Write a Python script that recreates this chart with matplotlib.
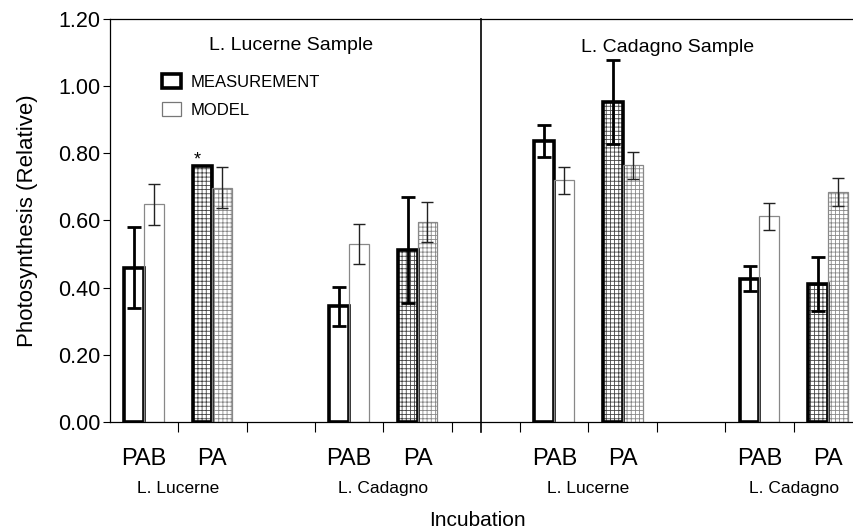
import matplotlib
matplotlib.use("Agg")
import matplotlib.pyplot as plt
from matplotlib.patches import Patch
import numpy as np

plt.rcParams["font.family"] = ["Liberation Sans", "DejaVu Sans"]
plt.rcParams["hatch.linewidth"] = 0.6

# slot index of each bar pair (slots 2, 5 and 8 stay empty)
slots = [0, 1, 3, 4, 6, 7, 9, 10]
treatment = ["PAB", "PA", "PAB", "PA", "PAB", "PA", "PAB", "PA"]
incubation = ["L. Lucerne", "L. Cadagno", "L. Lucerne", "L. Cadagno"]
incubation_pos = [0.5, 3.5, 6.5, 9.5]
samples = ["L. Lucerne Sample", "L. Cadagno Sample"]

measurement = [0.46, 0.763, 0.345, 0.513, 0.836, 0.954, 0.427, 0.41]
measurement_err = [0.12, 0.0, 0.058, 0.158, 0.048, 0.125, 0.036, 0.08]
model = [0.648, 0.698, 0.529, 0.596, 0.72, 0.764, 0.612, 0.685]
model_err = [0.06, 0.06, 0.06, 0.059, 0.04, 0.04, 0.04, 0.041]
stippled = [False, True, False, True, False, True, False, True]

fig = plt.figure(figsize=(8.54, 5.32), dpi=100)
ax = fig.add_axes([0.1286, 0.2068, 0.8808, 0.7575])

w = 0.29
x = np.array(slots, dtype=float)

for i in range(len(slots)):
    xm = x[i] - w / 2
    xo = x[i] + w / 2
    if stippled[i]:
        ax.bar(xm, measurement[i], w, color="white", edgecolor="#444444",
               hatch="++++", linewidth=0, zorder=1)
        ax.bar(xo, model[i], w, color="white", edgecolor="#888888",
               hatch="++++", linewidth=0, zorder=1)
    ax.bar(xm, measurement[i], w, fill=False, edgecolor="black",
           linewidth=2.6, zorder=2)
    ax.bar(xo, model[i], w, fill=False, edgecolor="#888888",
           linewidth=0.9, zorder=2)
    if measurement_err[i] > 0:
        ax.errorbar(xm, measurement[i], yerr=measurement_err[i], fmt="none",
                    ecolor="black", elinewidth=2, capsize=5, capthick=2, zorder=3)
    ax.errorbar(xo, model[i], yerr=model_err[i], fmt="none",
                ecolor="#222222", elinewidth=1, capsize=4, capthick=1, zorder=3)

# significance mark on the L. Lucerne PA measurement
ax.text(x[1] - w / 2 - 0.07, measurement[1] - 0.008, "*", ha="center",
        va="bottom", fontsize=13)

ax.set_xlim(-0.5, 10.5)
ax.set_ylim(0, 1.2)
ax.set_yticks(np.arange(0, 1.21, 0.2))
ax.set_yticklabels([f"{v:.2f}" for v in np.arange(0, 1.21, 0.2)], fontsize=15.5)
ax.set_xticks([0.5, 1.5, 2.5, 3.5, 4.5, 5.5, 6.5, 7.5, 8.5, 9.5])
ax.set_xticklabels([])
ax.tick_params(axis="y", direction="out", length=5, width=0.8, pad=2)
ax.tick_params(axis="x", direction="out", length=7, width=0.8)
for s in ax.spines.values():
    s.set_linewidth(0.9)

# panel divider
ax.plot([4.93, 4.93], [-0.03, 1.2], color="black", linewidth=1.2,
        clip_on=False, zorder=4)

trans = ax.get_xaxis_transform()
for xs, lab in zip(x, treatment):
    ax.text(xs, -0.092, lab, transform=trans, ha="center", va="center",
            fontsize=17)
for xp, lab in zip(incubation_pos, incubation):
    ax.text(xp, -0.166, lab, transform=trans, ha="center", va="center",
            fontsize=12.5)

ax.text(2.15, 1.12, samples[0], ha="center", va="center", fontsize=14)
ax.text(7.65, 1.115, samples[1], ha="center", va="center", fontsize=14)

ax.set_ylabel("Photosynthesis (Relative)", fontsize=16, labelpad=14)
fig.text(0.559, 0.021, "Incubation", ha="center", va="center", fontsize=15)

handles = [Patch(facecolor="white", edgecolor="black", linewidth=2.6),
           Patch(facecolor="white", edgecolor="#777777", linewidth=0.9)]
ax.legend(handles, ["MEASUREMENT", "MODEL"], loc="upper left",
          bbox_to_anchor=(0.05, 0.90), frameon=False, fontsize=12,
          handlelength=1.1, handleheight=0.9, handletextpad=0.6,
          labelspacing=0.75)

fig.savefig("out.png", dpi=100)
